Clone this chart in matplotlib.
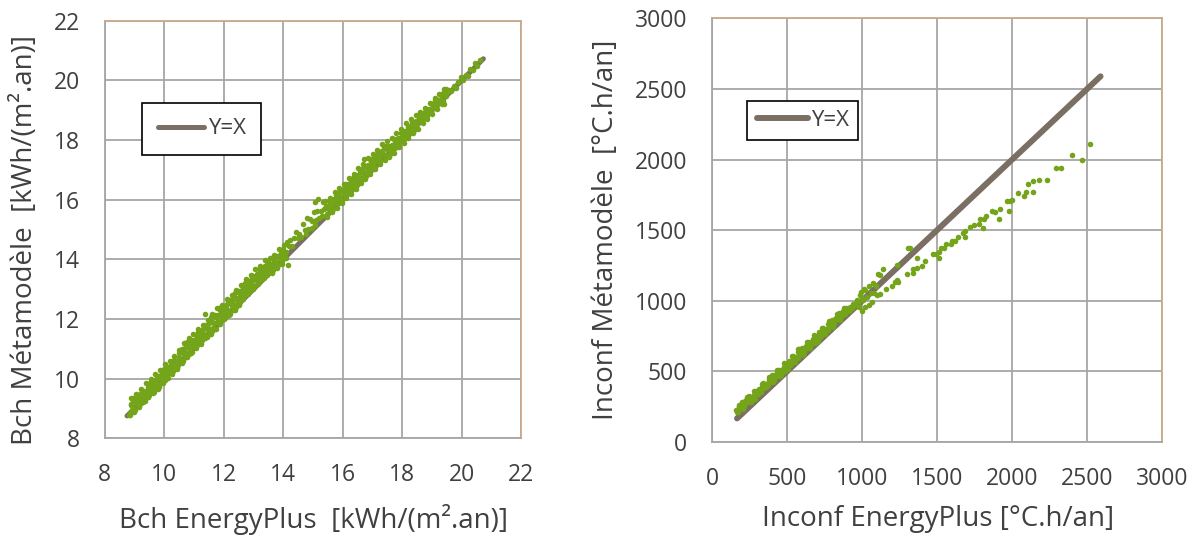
import matplotlib
matplotlib.use('Agg')
import matplotlib.pyplot as plt

plt.rcParams['font.family'] = ['Open Sans', 'DejaVu Sans']

# ---------------- data ----------------
# Left panel: Bch, EnergyPlus (x) vs metamodel (y)
bch_energyplus = [
    8.80, 8.84, 8.88, 8.92, 8.94, 8.96, 9.00, 9.04, 9.08, 9.12, 9.16, 9.20, 9.24, 9.28, 9.32, 9.36, 9.40, 9.44, 9.48,
    9.52, 9.56, 9.60, 9.64, 9.68, 9.72, 9.76, 9.80, 9.84, 9.88, 9.92, 9.96, 10.00, 10.04, 10.08, 10.12, 10.16, 10.20,
    10.24, 10.28, 10.32, 10.36, 10.40, 10.44, 10.48,
    10.52, 10.56, 10.60, 10.64, 10.68, 10.72, 10.76, 10.80, 10.84, 10.88, 10.92, 10.96, 11.00, 11.04, 11.08, 11.12,
    11.16, 11.20, 11.24, 11.28, 11.32, 11.36, 11.40, 11.44, 11.48, 11.37,
    11.52, 11.56, 11.60, 11.64, 11.68, 11.72, 11.76, 11.80, 11.84, 11.88, 11.92, 11.96, 12.00, 12.04, 12.08, 12.12,
    12.16, 12.20, 12.24, 12.28, 12.32, 12.36, 12.40, 12.44, 12.48,
    12.52, 12.56, 12.60, 12.64, 12.68, 12.72, 12.76, 12.80, 12.84, 12.88, 12.92, 12.96, 13.00, 13.04, 13.08, 13.12,
    13.16, 13.20, 13.24, 13.28, 13.32, 13.36, 13.40, 13.44, 13.48,
    13.52, 13.56, 13.60, 13.64, 13.68, 13.72, 13.76, 13.80, 13.84, 13.88, 13.92, 13.96, 14.00, 14.04, 14.08, 14.17,
    14.12, 14.18, 14.24, 14.30, 14.36, 14.42, 14.48, 14.54, 14.60,
    14.66, 14.72, 14.78, 14.84, 14.90, 14.96, 15.02, 15.08, 15.14, 15.20, 15.26, 15.32, 15.38,
    15.05, 15.18, 14.75, 14.95, 15.10, 15.30,
    15.42, 15.46, 15.50, 15.54, 15.58, 15.62, 15.66, 15.70, 15.74, 15.78, 15.82, 15.86, 15.90, 15.94, 15.98, 16.02,
    16.06, 16.10, 16.14, 16.18, 16.22, 16.26, 16.30, 16.34, 16.38, 16.42, 16.46, 16.50,
    16.54, 16.58, 16.62, 16.66, 16.70, 16.74, 16.78, 16.82, 16.86, 16.90, 16.94, 16.98, 17.02, 17.06, 17.10, 17.14,
    17.18, 17.22, 17.26, 17.30, 17.34, 17.38, 17.42, 17.46, 17.50, 16.71,
    17.54, 17.58, 17.62, 17.66, 17.70, 17.74, 17.78, 17.82, 17.86, 17.90, 17.94, 17.98, 18.02, 18.06, 18.10, 18.14,
    18.18, 18.22, 18.26, 18.30, 18.34, 18.38, 18.42, 18.46, 18.50,
    18.55, 18.60, 18.65, 18.70, 18.75, 18.80, 18.85, 18.90, 18.95, 19.00, 19.05, 19.10, 19.15, 19.20, 19.25, 19.30,
    19.35, 19.40, 19.45, 19.50, 19.39,
    19.56, 19.64, 19.72, 19.80, 19.88, 19.96, 20.04, 20.12, 20.20, 20.28, 20.36, 20.44, 20.52, 20.60,
    # second pass through the dense cloud
    8.86, 8.90, 8.94, 8.98, 9.02, 9.06, 9.10, 9.14, 9.18, 9.22, 9.26, 9.30, 9.34, 9.38, 9.42, 9.46,
    9.50, 9.54, 9.58, 9.62, 9.66, 9.70, 9.74, 9.78, 9.82, 9.86, 9.90, 9.94, 9.98, 10.02, 10.06, 10.10, 10.14, 10.18,
    10.22, 10.26, 10.30, 10.34, 10.38, 10.42, 10.46,
    10.50, 10.54, 10.58, 10.62, 10.66, 10.70, 10.74, 10.78, 10.82, 10.86, 10.90, 10.94, 10.98, 11.02, 11.06, 11.10,
    11.14, 11.18, 11.22, 11.26, 11.30, 11.34, 11.38, 11.42, 11.46,
    11.50, 11.54, 11.58, 11.62, 11.66, 11.70, 11.74, 11.78, 11.82, 11.86, 11.90, 11.94, 11.98, 12.02, 12.06, 12.10,
    12.14, 12.18, 12.22, 12.26, 12.30, 12.34, 12.38, 12.42, 12.46,
    12.50, 12.54, 12.58, 12.62, 12.66, 12.70, 12.74, 12.78, 12.82, 12.86, 12.90, 12.94, 12.98, 13.02, 13.06, 13.10,
    13.14, 13.18, 13.22, 13.26, 13.30, 13.34, 13.38, 13.42, 13.46,
    13.50, 13.54, 13.58, 13.62, 13.66, 13.70, 13.74, 13.78, 13.82, 13.86, 13.90, 13.94, 13.98, 14.02, 14.06,
    15.44, 15.48, 15.52, 15.56, 15.60, 15.64, 15.68, 15.72, 15.76, 15.80, 15.84, 15.88, 15.92, 15.96, 16.00, 16.04,
    16.08, 16.12, 16.16, 16.20, 16.24, 16.28, 16.32, 16.36, 16.40, 16.44, 16.48,
    16.52, 16.56, 16.60, 16.64, 16.68, 16.72, 16.76, 16.80, 16.84, 16.88, 16.92, 16.96, 17.00, 17.04, 17.08, 17.12,
    17.16, 17.20, 17.24, 17.28, 17.32, 17.36, 17.40, 17.44, 17.48,
    17.52, 17.56, 17.60, 17.64, 17.68, 17.72, 17.76, 17.80, 17.84, 17.88, 17.92, 17.96, 18.00, 18.04, 18.08, 18.12,
    18.16, 18.20, 18.24, 18.28, 18.32, 18.36, 18.40, 18.44, 18.48,
    18.58, 18.64, 18.70, 18.76, 18.82, 18.88, 18.94, 19.00, 19.06, 19.12, 19.18, 19.24, 19.30, 19.36, 19.42, 19.48,
    # upper and lower edges of the cloud
    8.90, 8.98, 9.06, 9.14, 9.22, 9.30, 9.38, 9.46,
    9.54, 9.62, 9.70, 9.78, 9.86, 9.94, 10.02, 10.10, 10.18, 10.26, 10.34, 10.42, 10.50,
    10.58, 10.66, 10.74, 10.82, 10.90, 10.98, 11.06, 11.14, 11.22, 11.30, 11.38, 11.46,
    11.54, 11.62, 11.70, 11.78, 11.86, 11.94, 12.02, 12.10, 12.18, 12.26, 12.34, 12.42, 12.50,
    12.58, 12.66, 12.74, 12.82, 12.90, 12.98, 13.06, 13.14, 13.22, 13.30, 13.38, 13.46,
    13.54, 13.62, 13.70, 13.78, 13.86, 13.94, 14.02, 14.10,
    15.40, 15.48, 15.56, 15.64, 15.72, 15.80, 15.88, 15.96, 16.04, 16.12, 16.20, 16.28, 16.36, 16.44,
    16.52, 16.60, 16.68, 16.76, 16.84, 16.92, 17.00, 17.08, 17.16, 17.24, 17.32, 17.40, 17.48,
    17.56, 17.64, 17.72, 17.80, 17.88, 17.96, 18.04, 18.12, 18.20, 18.28, 18.36, 18.44, 18.52,
    18.60, 18.68, 18.76, 18.84, 18.92, 19.00, 19.08, 19.16, 19.24, 19.32, 19.40,
]
bch_metamodele = [
    8.78, 8.78, 9.10, 8.96, 9.34, 9.24, 8.98, 9.20, 9.16, 9.36, 9.08, 9.38, 9.24, 9.38, 9.58, 9.42, 9.60, 9.40, 9.62,
    9.84, 9.57, 9.72, 9.56, 9.91, 9.75, 10.06, 9.77, 10.01, 9.96, 10.17, 9.86, 10.19, 10.03, 10.18, 10.40, 10.22, 10.41,
    10.19, 10.42, 10.64, 10.37, 10.52, 10.36, 10.71,
    10.63, 10.97, 10.63, 10.90, 10.84, 11.08, 10.72, 11.08, 10.90, 11.06, 11.30, 11.09, 11.31, 11.05, 11.31, 11.55,
    11.24, 11.41, 11.22, 11.61, 11.43, 11.77, 11.43, 11.70, 11.64, 12.15,
    11.92, 11.51, 11.91, 11.70, 11.88, 12.14, 11.90, 12.14, 11.84, 12.14, 12.40, 12.05, 12.23, 12.02, 12.45, 12.24,
    12.61, 12.23, 12.52, 12.45, 12.72, 12.31, 12.71, 12.50, 12.68,
    12.95, 12.77, 12.96, 12.74, 12.97, 13.19, 12.92, 13.07, 12.91, 13.26, 13.10, 13.41, 13.12, 13.36, 13.31, 13.52,
    13.21, 13.54, 13.38, 13.53, 13.75, 13.57, 13.76, 13.54, 13.77,
    13.87, 13.63, 13.77, 13.63, 13.95, 13.81, 14.09, 13.83, 14.05, 14.01, 14.21, 13.93, 14.23, 14.09, 14.23, 13.81,
    14.58, 14.44, 14.64, 14.46, 14.70, 14.92, 14.70, 14.86, 14.74,
    15.19, 14.98, 15.40, 15.01, 15.34, 15.28, 15.58, 15.16, 15.61, 15.40, 15.61, 15.91, 15.67,
    15.93, 16.02, 14.85, 15.05, 15.30, 15.45,
    15.72, 15.52, 15.74, 15.94, 15.70, 15.84, 15.70, 16.02, 15.88, 16.16, 15.90, 16.12, 16.08, 16.28, 16.00, 16.30,
    16.16, 16.30, 16.50, 16.34, 16.52, 16.32, 16.54, 16.74, 16.50, 16.64, 16.50, 16.82,
    16.68, 16.96, 16.70, 16.92, 16.88, 17.08, 16.80, 17.10, 16.96, 17.10, 17.30, 17.14, 17.32, 17.12, 17.34, 17.54,
    17.30, 17.44, 17.30, 17.62, 17.48, 17.76, 17.50, 17.72, 17.68, 17.35,
    17.77, 17.52, 17.79, 17.67, 17.80, 17.98, 17.84, 18.01, 17.83, 18.04, 18.22, 18.01, 18.14, 18.02, 18.31, 18.19,
    18.44, 18.21, 18.41, 18.38, 18.57, 18.32, 18.59, 18.47, 18.60,
    18.77, 18.67, 18.83, 18.70, 18.88, 19.05, 18.89, 19.02, 18.93, 19.19, 19.11, 19.34, 19.16, 19.35, 19.34, 19.51,
    19.32, 19.56, 19.48, 19.60, 19.19,
    19.69, 19.65, 19.81, 19.75, 19.93, 20.11, 20.02, 20.16, 20.13, 20.38, 20.35, 20.58, 20.48, 20.67,
    # second pass through the dense cloud
    8.86, 9.14, 9.02, 9.26, 8.96, 9.20, 9.30, 9.18, 9.48, 9.18, 9.36, 9.52, 9.26, 9.54, 9.44, 9.72,
    9.46, 9.66, 9.78, 9.67, 9.64, 9.97, 9.82, 10.10, 9.73, 10.01, 10.12, 9.97, 10.32, 9.95, 10.16, 10.34, 10.02, 10.35,
    10.22, 10.55, 10.26, 10.46, 10.58, 10.47, 10.44,
    10.87, 10.69, 11.00, 10.58, 10.89, 11.02, 10.84, 11.23, 10.81, 11.04, 11.24, 10.88, 11.24, 11.09, 11.46, 11.12,
    11.35, 11.47, 11.35, 11.31, 11.67, 11.49, 11.80, 11.38, 11.69,
    11.85, 11.65, 12.08, 11.61, 11.86, 12.08, 11.67, 12.07, 11.90, 12.30, 11.92, 12.17, 12.30, 12.16, 12.11, 12.51,
    12.31, 12.65, 12.18, 12.52, 12.65, 12.45, 12.88, 12.41, 12.66,
    12.89, 12.57, 12.90, 12.77, 13.10, 12.81, 13.01, 13.13, 13.02, 12.99, 13.32, 13.17, 13.45, 13.08, 13.36, 13.47,
    13.32, 13.67, 13.30, 13.51, 13.69, 13.37, 13.70, 13.57, 13.90,
    13.53, 13.71, 13.81, 13.73, 13.71, 13.99, 13.87, 14.11, 13.81, 14.05, 14.15, 14.03, 14.33, 14.03, 14.21,
    15.77, 15.48, 15.79, 15.67, 15.98, 15.71, 15.90, 16.01, 15.92, 15.89, 16.19, 16.06, 16.32, 15.98, 16.24, 16.35,
    16.21, 16.54, 16.21, 16.40, 16.57, 16.28, 16.59, 16.47, 16.78, 16.51, 16.70,
    16.83, 16.74, 16.71, 17.01, 16.88, 17.14, 16.80, 17.06, 17.17, 17.03, 17.36, 17.03, 17.22, 17.39, 17.10, 17.41,
    17.29, 17.60, 17.33, 17.52, 17.63, 17.54, 17.51, 17.81, 17.68,
    17.80, 17.50, 17.74, 17.84, 17.72, 18.02, 17.72, 17.90, 18.06, 17.80, 18.08, 17.98, 18.26, 18.02, 18.20, 18.30,
    18.22, 18.20, 18.48, 18.36, 18.60, 18.30, 18.54, 18.64, 18.52,
    18.83, 18.64, 18.80, 18.95, 18.79, 19.03, 18.98, 19.22, 19.07, 19.24, 19.34, 19.31, 19.33, 19.57, 19.51, 19.72,
    # upper and lower edges of the cloud
    9.34, 8.88, 9.50, 9.06, 9.66, 9.22, 9.86, 9.37,
    9.98, 9.53, 10.16, 9.66, 10.28, 9.85, 10.48, 10.01, 10.60, 10.17, 10.76, 10.31, 10.96,
    10.53, 11.18, 10.71, 11.36, 10.85, 11.48, 11.03, 11.68, 11.17, 11.80, 11.35, 11.98,
    11.50, 12.16, 11.67, 12.36, 11.82, 12.48, 11.99, 12.68, 12.13, 12.80, 12.31, 12.96, 12.47,
    13.14, 12.68, 13.34, 12.85, 13.46, 13.00, 13.66, 13.17, 13.78, 13.33, 13.98, 13.47,
    14.03, 13.55, 14.16, 13.71, 14.36, 13.85, 14.48, 14.04,
    15.94, 15.42, 16.06, 15.57, 16.26, 15.72, 16.40, 15.88, 16.54, 16.05, 16.74, 16.19, 16.86, 16.37,
    17.06, 16.55, 17.18, 16.70, 17.38, 16.87, 17.52, 17.02, 17.66, 17.18, 17.86, 17.34, 17.98,
    17.43, 18.06, 17.57, 18.24, 17.75, 18.36, 17.90, 18.56, 18.05, 18.70, 18.23, 18.84, 18.38,
    18.92, 18.57, 19.08, 18.71, 19.24, 18.88, 19.40, 19.05, 19.54, 19.20, 19.70,
]
bch_identity = [8.75, 20.72]

# Right panel: Inconf, EnergyPlus (x) vs metamodel (y)
inconf_energyplus = [
    160, 170, 180, 190, 200, 210, 220, 230, 240, 250, 260, 270, 280, 290, 300, 310, 320, 330, 340, 350,
    360, 370, 380, 390, 400,
    410, 420, 430, 440, 450, 460, 470, 480, 490, 500, 510, 520, 530, 540, 550, 560, 570, 580, 590, 600,
    610, 620, 630, 640, 650, 660, 670, 680, 690, 700, 573,
    710, 720, 730, 740, 750, 760, 770, 780, 790, 800, 810, 820, 830, 840, 850, 860, 870, 880, 890, 900,
    910, 920, 930, 940, 950, 960, 965, 975, 985, 995, 1000, 1005,
    # second pass through the dense cloud
    165, 175, 185, 195, 205, 215, 225, 235, 245,
    255, 265, 275, 285, 295, 305, 315, 325, 335, 345, 355, 365, 375, 385, 395, 405, 415, 425, 435, 445,
    455, 465, 475, 485, 495, 505, 515, 525, 535, 545, 555, 565, 575, 585, 595, 605, 615, 625, 635, 645,
    655, 665, 675, 685, 695, 705, 715, 725, 735, 745, 755, 765, 775, 785, 795, 805, 815, 825, 835, 845,
    855, 865, 875, 885, 895, 905,
    # upper and lower edges of the cloud
    180, 230, 280, 330, 380, 430, 480, 530, 580, 630, 680, 730, 780, 830, 880,
    205, 255, 305, 355, 405, 455, 505, 555, 605, 655, 705, 755, 805, 855,
    # scattered points above 900
    933, 956, 978, 1000, 1022, 1044, 1067, 1033, 1011, 1022, 1044, 1056, 1082, 1073, 1089, 1100, 1118,
    1107, 1122, 1138, 1160, 1200, 1218, 1229, 1238, 1233, 1296, 1336, 1340, 1367, 1396, 1422, 1367,
    1307, 1322, 1473, 1493, 1511, 1511, 1527, 1544, 1562, 1593, 1596, 1616, 1638, 1689, 1671, 1689,
    1718, 1744, 1778, 1807, 1789, 1811, 1829, 1867, 1884, 1911, 1918, 1978, 1967, 1984, 2000, 2040,
    2080, 2093, 2138, 2104, 2140, 2178, 2233, 2296, 2329, 2400, 2467, 2522,
]
inconf_metamodele = [
    222, 210, 255, 242, 282, 255, 287, 287, 317, 287, 320, 307, 330, 360, 345, 372, 352, 385, 415, 390,
    412, 400, 445, 432, 472,
    435, 467, 467, 497, 467, 510, 497, 520, 550, 535, 562, 542, 575, 605, 580, 602, 590, 635, 622, 662,
    635, 667, 667, 697, 667, 710, 697, 720, 750, 735, 656,
    762, 742, 775, 805, 780, 802, 790, 835, 822, 862, 835, 867, 867, 897, 867, 910, 897, 920, 950, 935,
    930, 955, 945, 975, 970, 985, 1005, 990, 1040, 1060, 1020, 1005,
    # second pass through the dense cloud
    208, 248, 238, 273, 240, 275, 293, 283, 325,
    278, 305, 330, 303, 343, 335, 375, 350, 378, 395, 390, 393, 433, 423, 458, 425, 460, 478, 468, 510,
    478, 505, 530, 503, 543, 535, 575, 550, 578, 595, 590, 593, 633, 623, 658, 625, 660, 678, 668, 710,
    678, 705, 730, 703, 743, 735, 775, 750, 778, 795, 790, 793, 833, 823, 858, 825, 860, 878, 868, 910,
    878, 905, 930, 903, 943, 935,
    # upper and lower edges of the cloud
    262, 315, 362, 412, 462, 508, 560, 608, 660, 708, 758, 808, 858, 905, 945,
    235, 285, 335, 385, 435, 470, 515, 565, 615, 665, 715, 765, 815, 865,
    # scattered points above 900
    958, 981, 958, 927, 958, 970, 989, 1029, 1080, 1076, 1104, 1052, 1057, 1128, 1104, 1040, 1045,
    1189, 1182, 1227, 1080, 1106, 1135, 1146, 1130, 1252, 1189, 1198, 1222, 1229, 1245, 1281, 1300,
    1370, 1370, 1330, 1328, 1304, 1342, 1370, 1370, 1401, 1399, 1422, 1425, 1448, 1448, 1481, 1493,
    1519, 1535, 1540, 1517, 1576, 1576, 1599, 1637, 1627, 1576, 1651, 1634, 1705, 1708, 1712, 1764,
    1745, 1771, 1771, 1830, 1847, 1856, 1856, 1943, 1943, 2035, 1995, 2113,
]
inconf_identity = [165, 2590]

bch_ticks = [8, 10, 12, 14, 16, 18, 20, 22]
inconf_ticks = [0, 500, 1000, 1500, 2000, 2500, 3000]

# ---------------- style ----------------
TEXT = '#404040'
GRID = '#a6a6a6'
TAN = '#c9aa8c'
GREEN = '#74a41a'
LINEC = '#7a6f62'

fig = plt.figure(figsize=(11.97, 5.38), dpi=100)
axL = fig.add_axes([0.08747, 0.18532, 0.34820, 0.77639])
axR = fig.add_axes([0.59507, 0.17900, 0.37569, 0.78662])


def style(ax, ticks):
    ax.set_xlim(ticks[0], ticks[-1])
    ax.set_ylim(ticks[0], ticks[-1])
    ax.set_xticks(ticks)
    ax.set_yticks(ticks)
    ax.grid(True, color=GRID, linewidth=1.3)
    ax.set_axisbelow(True)
    ax.tick_params(length=0, labelsize=16.5, labelcolor=TEXT)
    ax.tick_params(axis='x', pad=18)
    ax.tick_params(axis='y', pad=18)
    for s in ['left', 'bottom']:
        ax.spines[s].set_color(GRID)
        ax.spines[s].set_linewidth(1.3)
    for s in ['top', 'right']:
        ax.spines[s].set_color(TAN)
        ax.spines[s].set_linewidth(1.3)


style(axL, bch_ticks)
style(axR, inconf_ticks)

axL.plot(bch_identity, bch_identity, color=LINEC, lw=3.6, solid_capstyle='round',
         zorder=2, label='Y=X')
axL.scatter(bch_energyplus, bch_metamodele, s=16, color=GREEN, linewidths=0, zorder=3)

axR.plot(inconf_identity, inconf_identity, color=LINEC, lw=4.3, solid_capstyle='round',
         zorder=2, label='Y=X')
axR.scatter(inconf_energyplus, inconf_metamodele, s=16, color=GREEN, linewidths=0, zorder=3)

for ax, anchor, bpad, hlen in [(axL, (0.090, 0.803), 0.7, 2.1), (axR, (0.078, 0.806), 0.42, 2.3)]:
    leg = ax.legend(loc='upper left', bbox_to_anchor=anchor, borderaxespad=0,
                    frameon=True, fancybox=False, fontsize=16, handlelength=hlen,
                    handletextpad=0.15, borderpad=bpad, labelcolor=TEXT)
    leg.get_frame().set_edgecolor('black')
    leg.get_frame().set_linewidth(1.2)
    leg.get_frame().set_alpha(1)

axL.set_xlabel('Bch EnergyPlus  [kWh/(m\u00b2.an)]', fontsize=20, color=TEXT, va='center')
axL.xaxis.set_label_coords(0.5, -0.195)
axL.set_ylabel('Bch M\u00e9tamod\u00e8le  [kWh/(m\u00b2.an)]', fontsize=20, color=TEXT, va='center')
axL.yaxis.set_label_coords(-0.191, 0.475)

axR.set_xlabel('Inconf EnergyPlus [\u00b0C.h/an]', fontsize=20, color=TEXT, va='center')
axR.xaxis.set_label_coords(0.502, -0.183)
axR.set_ylabel('Inconf M\u00e9tamod\u00e8le  [\u00b0C.h/an]', fontsize=20, color=TEXT, va='center')
axR.yaxis.set_label_coords(-0.236, 0.50)

fig.savefig('out.png', dpi=100)
